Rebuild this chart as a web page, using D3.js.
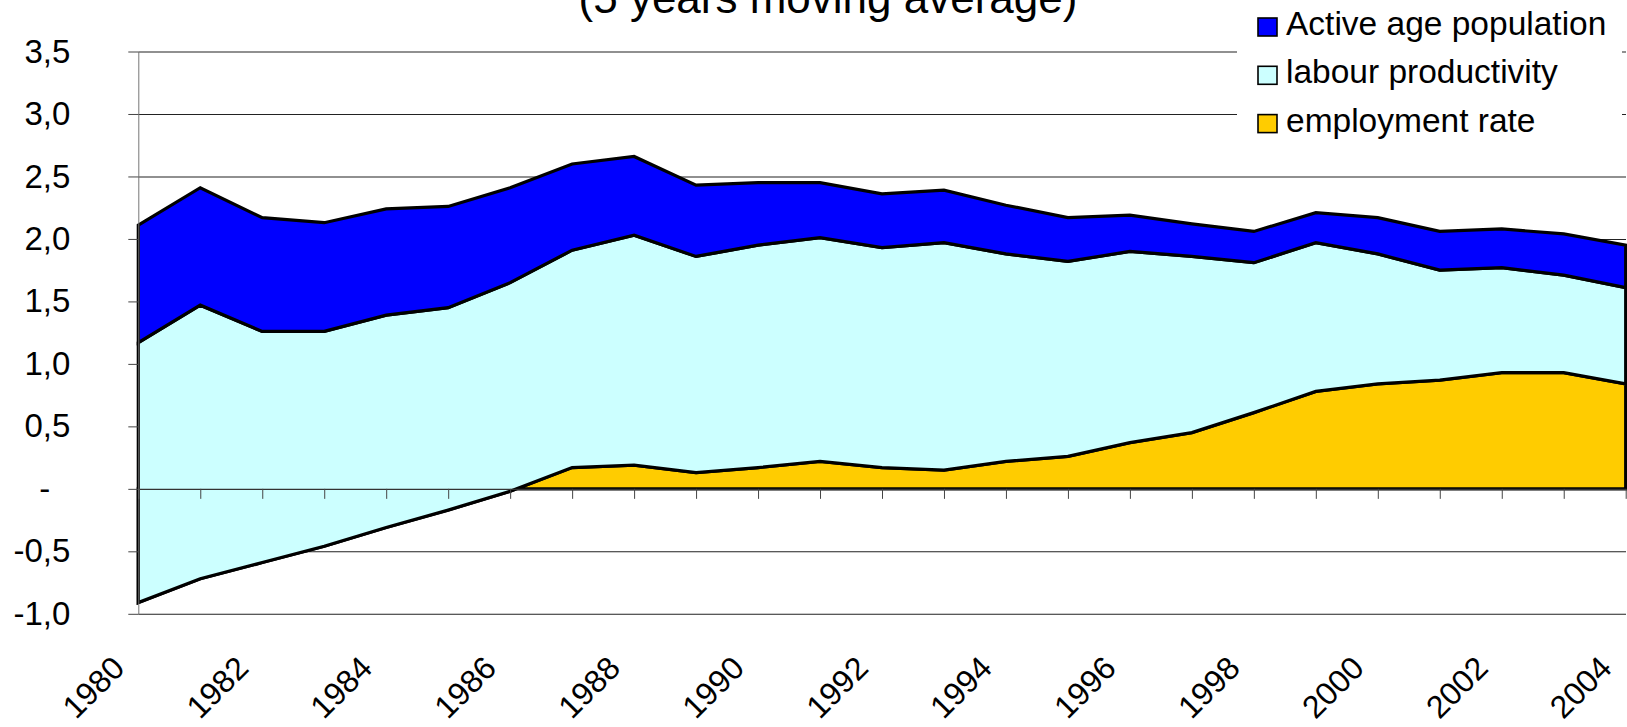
<!DOCTYPE html>
<html>
<head>
<meta charset="utf-8">
<script src="https://cdn.jsdelivr.net/npm/d3@7"></script>
<style>
  body { margin: 0; background: #fff; }
  text { font-family: "Liberation Sans", Arial, sans-serif; fill: #000; }
</style>
</head>
<body>
<div id="chart"></div>
<script>
// Contributions to growth (5 years moving average), stacked area

// Data
let years = [1980, 1981, 1982, 1983, 1984, 1985, 1986, 1987, 1988, 1989, 1990, 1991, 1992,
             1993, 1994, 1995, 1996, 1997, 1998, 1999, 2000, 2001, 2002, 2003, 2004];

let employmentRate = [-0.91, -0.72, -0.59, -0.46, -0.31, -0.17, -0.02, 0.17, 0.19, 0.13, 0.17, 0.22, 0.17,
                      0.15, 0.22, 0.26, 0.37, 0.45, 0.61, 0.78, 0.84, 0.87, 0.93, 0.93, 0.84];

let labourProductivity = [2.08, 2.19, 1.85, 1.72, 1.70, 1.62, 1.67, 1.74, 1.84, 1.73, 1.78, 1.79, 1.76,
                          1.82, 1.66, 1.56, 1.53, 1.41, 1.20, 1.19, 1.04, 0.88, 0.84, 0.78, 0.77];

let activeAgePopulation = [0.94, 0.94, 0.91, 0.87, 0.85, 0.81, 0.76, 0.69, 0.63, 0.57, 0.50, 0.44, 0.43,
                           0.42, 0.39, 0.35, 0.29, 0.26, 0.25, 0.24, 0.29, 0.31, 0.31, 0.33, 0.34];

let seriesNames = ["employment rate", "labour productivity", "Active age population"];
let legendOrder = ["Active age population", "labour productivity", "employment rate"];

let yTicks = [-1, -0.5, 0, 0.5, 1, 1.5, 2, 2.5, 3, 3.5];
let yTickLabels = ["-1,0", "-0,5", "-", "0,5", "1,0", "1,5", "2,0", "2,5", "3,0", "3,5"];
let xLabelYears = [1980, 1982, 1984, 1986, 1988, 1990, 1992, 1994, 1996, 1998, 2000, 2002, 2004];

let titleText = "(5 years moving average)";

let colors = {
    "employment rate": "#ffcc00",
    "labour productivity": "#ccffff",
    "Active age population": "#0000ff"
};

// Set up chart
let svgWidth = 1627;
let svgHeight = 727;

let plot = { left: 138.3, right: 1625.7, top: 51.5, bottom: 613.8 };

let svg = d3.select("#chart")
    .append("svg")
    .attr("width", svgWidth)
    .attr("height", svgHeight);

// Build rows for the stack
let rows = years.map((yr, i) => ({
    year: yr,
    "employment rate": employmentRate[i],
    "labour productivity": labourProductivity[i],
    "Active age population": activeAgePopulation[i]
}));

// Scales
let xScale = d3.scaleLinear()
    .domain([d3.min(years), d3.max(years)])
    .range([plot.left, plot.right]);

let yScale = d3.scaleLinear()
    .domain([d3.min(yTicks), d3.max(yTicks)])
    .range([plot.bottom, plot.top]);

// Gridlines (behind everything)
let gridAxis = d3.axisLeft(yScale)
    .tickValues(yTicks)
    .tickSize(-(svgWidth - 1 - plot.left))
    .tickFormat("");

svg.append("g")
    .attr("transform", `translate(${plot.left}, 0)`)
    .call(gridAxis)
    .call(g => g.select(".domain").remove())
    .call(g => g.selectAll(".tick line").attr("stroke", "#222").attr("stroke-width", 1.1));

// Stacked areas, cumulative so negative employment rate stays under productivity
let stack = d3.stack().keys(seriesNames);
let stacked = stack(rows);

let area = d3.area()
    .x(d => xScale(d.data.year))
    .y0(d => yScale(d[0]))
    .y1(d => yScale(d[1]));

svg.append("g")
    .selectAll("path")
    .data(stacked)
    .join("path")
    .attr("d", area)
    .attr("fill", d => colors[d.key])
    .attr("stroke", "#000")
    .attr("stroke-width", 3.2);

// Category axis crossing at zero, one tick per year
let bottomAxis = d3.axisBottom(xScale)
    .tickValues(years)
    .tickSize(10)
    .tickSizeOuter(0)
    .tickFormat("");

svg.append("g")
    .attr("transform", `translate(0, ${yScale(0)})`)
    .call(bottomAxis)
    .call(g => g.select(".domain").attr("stroke", "#333").attr("stroke-width", 1.2))
    .call(g => g.selectAll(".tick line").attr("stroke", "#444"));

// Value axis with labels
let leftAxis = d3.axisLeft(yScale)
    .tickValues(yTicks)
    .tickSize(10)
    .tickSizeOuter(0)
    .tickPadding(58)
    .tickFormat((d, i) => yTickLabels[i]);

svg.append("g")
    .attr("transform", `translate(${plot.left}, 0)`)
    .call(leftAxis)
    .call(g => g.select(".domain").attr("stroke", "#777"))
    .call(g => g.selectAll(".tick line").attr("stroke", "#444"))
    .call(g => g.selectAll(".tick text")
        .attr("font-size", 33)
        .attr("font-family", "Liberation Sans, Arial, sans-serif")
        .attr("fill", "#000")
        .attr("x", d => d === 0 ? -88 : -68));

// Rotated year labels
svg.append("g")
    .selectAll("text")
    .data(xLabelYears)
    .join("text")
    .attr("transform", d => `translate(${xScale(d) - 12}, 670) rotate(-45)`)
    .attr("text-anchor", "end")
    .attr("font-size", 32)
    .text(d => d);

// Legend on a white box over the plot
let legend = svg.append("g");

legend.append("rect")
    .attr("x", 1237)
    .attr("y", 0)
    .attr("width", 385)
    .attr("height", 150)
    .attr("fill", "#fff");

let legendItems = legend.selectAll("g.item")
    .data(legendOrder)
    .join("g")
    .attr("class", "item")
    .attr("transform", (d, i) => `translate(1258, ${35 + i * 48.3})`);

legendItems.append("rect")
    .attr("x", 0)
    .attr("y", -17)
    .attr("width", 19)
    .attr("height", 18)
    .attr("fill", d => colors[d])
    .attr("stroke", "#000")
    .attr("stroke-width", 1.6);

legendItems.append("text")
    .attr("x", 28)
    .attr("y", 0)
    .attr("font-size", 33.5)
    .text(d => d);

// Title (second line only is visible in the frame)
svg.append("text")
    .attr("x", 828)
    .attr("y", 13)
    .attr("text-anchor", "middle")
    .attr("font-size", 44)
    .text(titleText);
</script>
</body>
</html>
